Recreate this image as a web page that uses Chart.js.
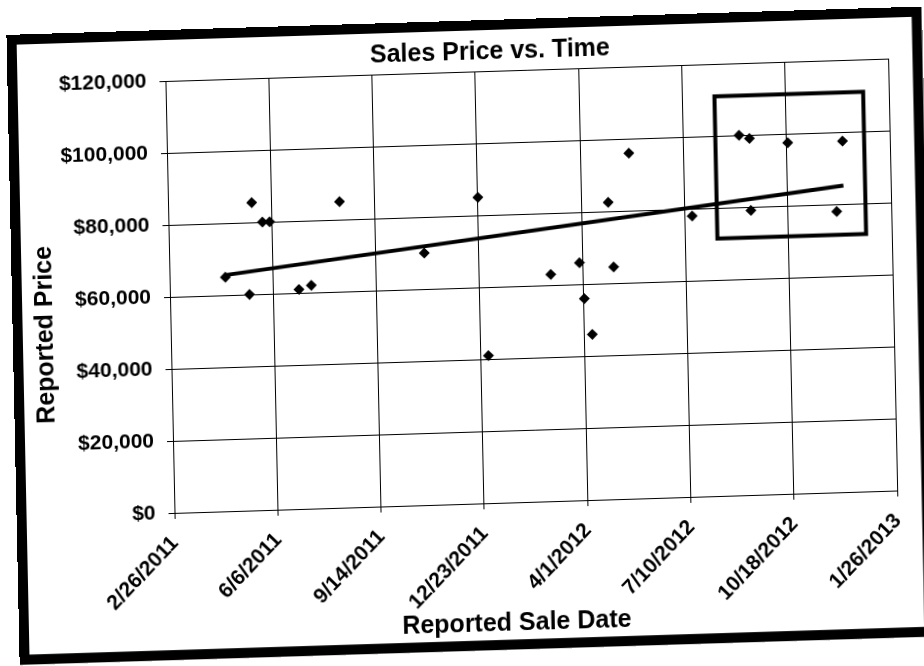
<!DOCTYPE html>
<html>
<head>
<meta charset="utf-8">
<script src="https://cdn.jsdelivr.net/npm/chart.js@4.4.1/dist/chart.umd.min.js"></script>
<style>
html,body{margin:0;padding:0;background:#fff;overflow:hidden;width:924px;height:666px;}
#wrap{position:absolute;left:0;top:0;width:924px;height:666px;transform-origin:462px 333px;transform:matrix(1,-0.031,0.021,1,0,0);}
#frame{position:absolute;left:13px;top:21px;width:915px;height:630px;border:10px solid #000;box-sizing:border-box;pointer-events:none;}
canvas{position:absolute;left:0;top:0;}
</style>
</head>
<body>
<div id="wrap"><canvas id="c" width="924" height="666"></canvas><div id="frame"></div></div>
<script>
// ---- data ----
const saleDates = [
  '4/21/2011','5/18/2011','5/28/2011','6/4/2011','5/14/2011','7/1/2011','7/13/2011','8/11/2011',
  '10/31/2011','12/23/2011','12/30/2011','3/1/2012','3/29/2012','4/2/2012','4/9/2012','4/27/2012',
  '5/1/2012','5/18/2012','7/17/2012','9/2/2012','9/12/2012','9/12/2012','10/19/2012','12/11/2012','12/4/2012'
];
const salePrices = [
  65000, 85500, 80000, 80000, 60000, 61000, 62000, 85000,
  70000, 85000, 41000, 63000, 66000, 56000, 46000, 82500,
  64500, 96000, 78000, 100000, 99000, 79000, 97500, 97500, 78000
];
const xAxisStart = '2/26/2011';
const xAxisEnd = '1/26/2013';
const xTickStepDays = 100;
const yAxisMin = 0;
const yAxisMax = 120000;
const yTickStep = 20000;
const highlightDates = ['8/10/2012', '1/1/2013'];
const highlightPrices = [71500, 111000];
const chartTitle = 'Sales Price vs. Time';
const xAxisTitle = 'Reported Sale Date';
const yAxisTitle = 'Reported Price';

// ---- helpers ----
const DAY = 86400000;
function toDay(s){ const p = s.split('/').map(Number); return Date.UTC(p[2], p[0]-1, p[1]) / DAY; }
function fmtDay(v){ const d = new Date(Math.round(v) * DAY); return (d.getUTCMonth()+1) + '/' + d.getUTCDate() + '/' + d.getUTCFullYear(); }
function fmtMoney(v){ return '$' + Number(v).toLocaleString('en-US'); }

const points = saleDates.map((d, i) => ({x: toDay(d), y: salePrices[i]}));

// least-squares linear trend over the data range
const xs = points.map(p => p.x), ys = points.map(p => p.y);
const n = xs.length;
const mx = xs.reduce((a,b)=>a+b,0)/n, my = ys.reduce((a,b)=>a+b,0)/n;
let sxy = 0, sxx = 0;
for (let i = 0; i < n; i++){ sxy += (xs[i]-mx)*(ys[i]-my); sxx += (xs[i]-mx)*(xs[i]-mx); }
const slope = sxy / sxx, icpt = my - slope*mx;
const xMin = Math.min(...xs), xMax = Math.max(...xs);
const trendPts = [{x: xMin, y: icpt + slope*xMin}, {x: xMax, y: icpt + slope*xMax}];

const FONT = '"Liberation Sans", Arial, Helvetica, sans-serif';

const titlesPlugin = {
  id: 'titlesPlugin',
  afterDraw(chart){
    const ctx = chart.ctx;
    ctx.save();
    ctx.fillStyle = '#000';
    ctx.textAlign = 'center';
    ctx.textBaseline = 'middle';
    ctx.font = 'bold 25px ' + FONT;
    ctx.fillText(chartTitle, 496, 53);
    ctx.fillText(xAxisTitle, 511, 625);
    ctx.translate(46, 322);
    ctx.rotate(-Math.PI/2);
    ctx.fillText(yAxisTitle, 0, 0);
    ctx.restore();
  }
};

const highlightPlugin = {
  id: 'highlightPlugin',
  afterDatasetsDraw(chart){
    const xs = chart.scales.x, ysc = chart.scales.y, ctx = chart.ctx;
    const x0 = xs.getPixelForValue(toDay(highlightDates[0]));
    const x1 = xs.getPixelForValue(toDay(highlightDates[1]));
    const y0 = ysc.getPixelForValue(highlightPrices[1]);
    const y1 = ysc.getPixelForValue(highlightPrices[0]);
    ctx.save();
    ctx.strokeStyle = '#000';
    ctx.lineWidth = 4;
    ctx.strokeRect(x0, y0, x1 - x0, y1 - y0);
    ctx.restore();
  }
};

new Chart(document.getElementById('c'), {
  type: 'scatter',
  data: {
    datasets: [
      {
        label: 'Sales',
        data: points,
        pointStyle: 'rectRot',
        pointRadius: 5.5,
        pointHoverRadius: 5.5,
        backgroundColor: '#000',
        borderColor: '#000',
        borderWidth: 0,
        order: 1
      },
      {
        label: 'Trend',
        type: 'line',
        data: trendPts,
        borderColor: '#000',
        backgroundColor: '#000',
        borderWidth: 4,
        pointRadius: 0,
        fill: false,
        order: 0
      }
    ]
  },
  options: {
    responsive: false,
    animation: false,
    devicePixelRatio: 1,
    layout: { padding: { left: 0, top: 72, right: 27, bottom: 0 } },
    plugins: { legend: { display: false }, tooltip: { enabled: false }, title: { display: false } },
    scales: {
      x: {
        type: 'linear',
        min: toDay(xAxisStart),
        max: toDay(xAxisEnd),
        afterFit(s){ s.height = 162; },
        ticks: {
          stepSize: xTickStepDays,
          callback: v => fmtDay(v),
          minRotation: 45, maxRotation: 45,
          autoSkip: false,
          color: '#000',
          font: { family: FONT, size: 21, weight: 'bold' },
          padding: 12
        },
        grid: { color: '#000', lineWidth: 1, tickLength: 6 },
        border: { color: '#000', width: 1 }
      },
      y: {
        min: yAxisMin,
        max: yAxisMax,
        afterFit(s){ s.width = 171; },
        ticks: {
          stepSize: yTickStep,
          callback: v => fmtMoney(v),
          color: '#000',
          font: { family: FONT, size: 21, weight: 'bold' },
          padding: 13
        },
        grid: { color: '#000', lineWidth: 1, tickLength: 6 },
        border: { color: '#000', width: 1 }
      }
    }
  },
  plugins: [titlesPlugin, highlightPlugin]
});
</script>
</body>
</html>
